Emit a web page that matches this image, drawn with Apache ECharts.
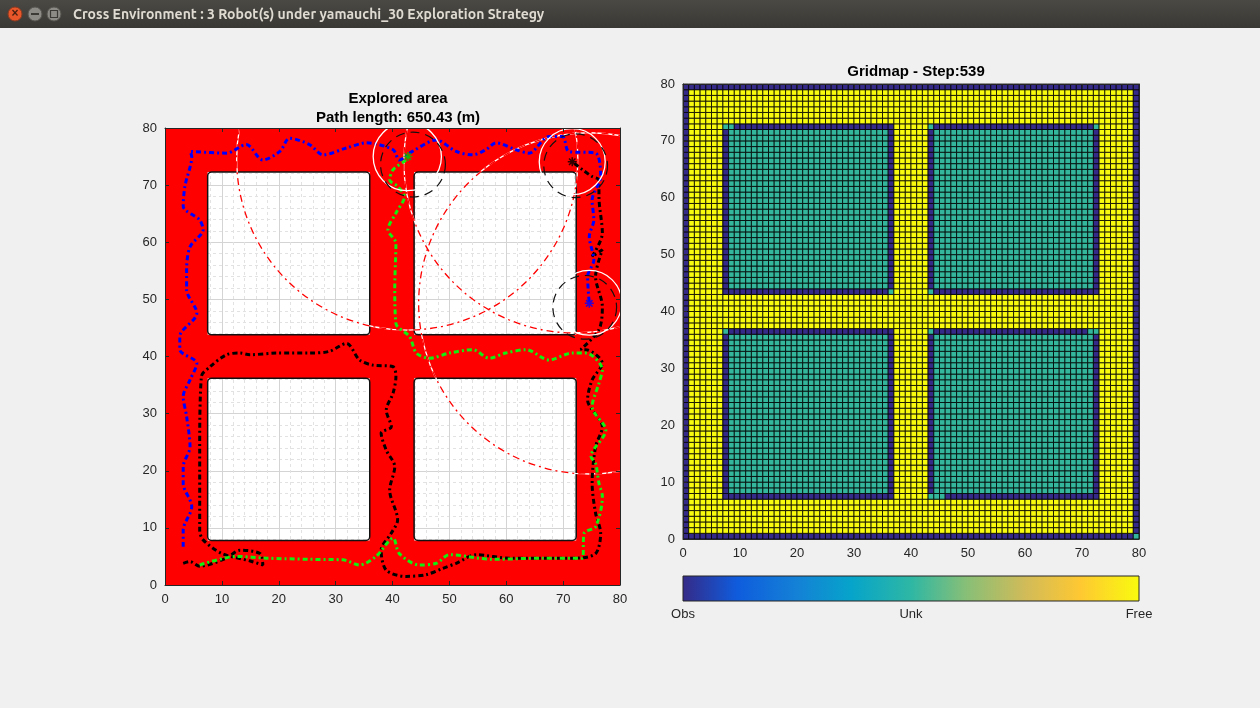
<!DOCTYPE html>
<html><head><meta charset="utf-8">
<script src="https://cdn.jsdelivr.net/npm/echarts@6/dist/echarts.min.js"></script>
<style>html,body{margin:0;padding:0;background:#f0f0f0}#c{width:1260px;height:708px}</style>
</head><body><div id="c"></div>
<script>
// ---------- DATA ----------
const ticks = [0,10,20,30,40,50,60,70,80];
const rooms = [[7.5,36,7.8,36.2],[43.8,72.3,7.8,36.2],[7.5,36,43.8,72.3],[43.8,72.3,43.8,72.3]];
const explored = [[0,80,0,7.8],[0,80,36.2,43.8],[0,80,72.3,80],[0,7.5,0,80],[36,43.8,0,80],[72.3,80,0,80]];
const bluePath = [[3.2,6.7],[3.2,9.6],[4.7,13.7],[3.2,17.8],[3.2,20.7],[4.4,24.2],[3.8,29.5],[3.2,33],[4.4,35.9],[5.6,38.8],[2.6,41.2],[2.6,43.5],[5.6,47.6],[3.8,51.7],[3.8,55.2],[4.4,59.2],[6.7,62.2],[6.1,63.9],[3.2,66.3],[3.5,69.8],[4.7,75],[4.4,75.9],[10.8,75.6],[14.3,77.1],[17.2,74.4],[20.2,75.9],[21.9,78.2],[25.4,77.1],[27.8,75.3],[31.9,76.5],[35.4,77.4],[40.1,76.2],[41.2,74.4],[43.5,75.9],[47.7,77.9],[51.2,75.9],[54.1,75.3],[56.4,76.2],[58.2,77.4],[61.7,76.2],[64,75.6],[67.5,78.5],[69.9,78.5],[71,75.9],[75.7,75.6],[76.6,71.5],[75.1,67.4],[75.4,63.9],[74.6,61],[75.4,56.9],[74.3,54],[74.6,49.3]];
const greenPath = [[6.1,3.5],[12.6,5],[17.8,4.7],[25.4,4.5],[31.3,4.4],[34.2,3.5],[37.1,5],[40.1,8.2],[41.2,5.5],[44.7,3.5],[47.7,3.8],[50,5.3],[57.6,4.5],[66.4,4.7],[73.4,4.7],[73.7,9.1],[75.7,10.2],[76.9,15.5],[76.3,17.8],[75.7,21.3],[74.9,22.5],[77.5,27.1],[75.1,31.2],[76.3,35.3],[76.9,37.7],[74,40.6],[71.6,40.6],[67.5,39.4],[63.5,41.2],[59.9,40.6],[57,39.7],[54.1,41.2],[50,40.6],[46.5,39.7],[44.2,40.6],[43,43.5],[40.6,45.8],[40.4,52.2],[40.6,59.8],[39.2,62.2],[40.6,65.1],[42.1,68],[40.9,69.8],[39.5,70.9],[40.1,72.7],[42.4,74.4],[42.7,75]];
const blackPath = [[3.2,3.8],[4.4,4.1],[6.1,3.3],[10.8,4.7],[13.2,6.1],[16.7,5.5],[17.2,3.5],[15,4.2],[10,5.5],[6.7,7.9],[6.1,9.6],[6.1,23.6],[6.4,36.5],[7.9,38.2],[10.8,40.3],[13.2,40.6],[14.9,40.3],[19.6,40.6],[25.4,40.6],[28.9,40.9],[31.9,42.3],[34.2,39.4],[36.5,38.5],[40.1,38.2],[40.6,36.5],[40.1,33.6],[38.9,30.6],[39.8,27.7],[38,26.6],[38.9,23.6],[40.4,20.7],[39.5,16.6],[40.9,11.4],[39.8,9.1],[38,6.1],[38.9,2.6],[42.4,1.5],[45.9,1.8],[48.8,2.9],[51.2,3.8],[54.7,5.3],[60.5,4.7],[72.2,4.7],[75.7,5.5],[76.6,9.1],[75.7,12.6],[75.1,17.8],[75.7,24.2],[76.9,27.7],[74.3,32.4],[75.1,35.9],[76.9,38.8],[74,41.2],[73.1,41.2],[76.3,44.7],[76.9,48.7],[75.7,54],[76.9,58.7],[75.1,57.5],[76.9,61.6],[76.3,68],[76.3,70.9],[75.1,71.5],[73.4,72.7],[71.6,74.1]];
const robots = [[74.6,49.3,'#0000ff'],[42.7,75,'#00c000'],[71.6,74.1,'#000000']];
const rangeCircles = [[42.6,74.5,30],[74.6,49.3,30],[72,74,30]];
const sensorCircles = [[42.6,75,6],[71.6,74.1,5.8],[74.6,49.4,5.7]];
const dashedCircles = [[43.6,73.6,5.7],[72.2,73.4,5.6],[73.8,48.6,5.6]];
// gridmap: 0 = Obs, 1 = Unk, 2 = Free
const gridSize = 80;
const unkBlocks = [[7,36,43,72],[43,72,43,72],[7,36,7,36],[43,72,7,36]];
const obsEdges = [[0,0,0,79],[79,79,0,79],[0,79,79,79],[0,78,0,0],
  [9,35,72,72],[7,7,43,71],[36,36,44,72],[7,35,43,43],
  [44,71,72,72],[43,43,44,71],[72,72,43,71],[44,72,43,43],
  [7,7,7,35],[8,36,36,36],[36,36,8,36],[8,36,7,7],
  [44,70,36,36],[43,43,8,35],[72,72,8,35],[46,72,7,7]];
const colorbarLabels = ['Obs','Unk','Free'];
const cellColors = ['#352a87','#33b69b','#f9fb0e'];

// ---------- BUILD ----------
const cells = [];
const grid = [];
for (let x=0;x<gridSize;x++){grid.push([]);for(let y=0;y<gridSize;y++)grid[x].push(2);}
unkBlocks.forEach(b=>{for(let x=b[0];x<=b[1];x++)for(let y=b[2];y<=b[3];y++)grid[x][y]=1;});
obsEdges.forEach(b=>{for(let x=b[0];x<=b[1];x++)for(let y=b[2];y<=b[3];y++)grid[x][y]=0;});
grid[79][0]=1;
for (let x=0;x<gridSize;x++)for(let y=0;y<gridSize;y++)cells.push([x,y,grid[x][y]]);

const FONT='Liberation Sans';
function axisPair(gi){
  const common = {type:'value',min:0,max:80,interval:10,gridIndex:gi};
  const boxAx = pos => Object.assign({},common,{position:pos,z:10,axisLine:{show:true,onZero:false,lineStyle:{color:'#262626'}},axisTick:{show:true,inside:true,length:4,lineStyle:{color:'#262626'}},axisLabel:{show:false},splitLine:{show:false}});
  const main = pos => Object.assign({},common,{position:pos,axisLine:{show:false},axisTick:{show:false},
        axisLabel:{show:true,color:'#262626',fontSize:13,fontFamily:FONT,margin:8},
        splitLine:{show:gi===0,lineStyle:{color:'#d4d4d4',width:1}},
        minorTick:{show:false},minorSplitLine:{show:gi===0,lineStyle:{color:'#e2e2e2',type:[3,3]}},splitNumber:5});
  return {x:[main('bottom'),boxAx('bottom'),boxAx('top')], y:[main('left'),boxAx('left'),boxAx('right')]};
}
const A0=axisPair(0), A1=axisPair(1);
const xAxes=[...A0.x,...A1.x], yAxes=[...A0.y,...A1.y];

function rectSeries(data, fill, stroke, z, r){
  return {type:'custom',xAxisIndex:0,yAxisIndex:0,z:z,silent:true,clip:true,data:data,
    renderItem:(p,api)=>{
      const a=api.coord([api.value(0),api.value(3)]), b=api.coord([api.value(1),api.value(2)]);
      return {type:'rect',shape:{x:a[0],y:a[1],width:b[0]-a[0],height:b[1]-a[1],r:r||0},
        style:{fill:fill,stroke:stroke,lineWidth:stroke?1.5:0}};
    }};
}
function circleSeries(data, stroke, dash, width, z){
  return {type:'custom',xAxisIndex:0,yAxisIndex:0,z:z,silent:true,clip:true,data:data,
    renderItem:(p,api)=>{
      const c=api.coord([api.value(0),api.value(1)]);
      const r=api.size([api.value(2),0])[0];
      return {type:'circle',shape:{cx:c[0],cy:c[1],r:r},style:{fill:null,stroke:stroke,lineWidth:width,lineDash:dash}};
    }};
}
function pathSeries(data,color,z){
  return {type:'line',xAxisIndex:0,yAxisIndex:0,z:z,data:data,showSymbol:false,smooth:0.3,silent:true,
    lineStyle:{color:color,width:3,type:[5,3,2,3]}};
}
const star='path://M0,-5L0,5M-5,0L5,0M-3.6,-3.6L3.6,3.6M-3.6,3.6L3.6,-3.6';

const option={
  animation:false,
  backgroundColor:'#f0f0f0',
  grid:[{left:165,top:128,width:455,height:457,show:true,backgroundColor:'#ffffff',borderWidth:0},{left:683,top:84,width:456,height:455}],
  xAxis:xAxes, yAxis:yAxes,
  title:[
    {text:'Explored area\nPath length: 650.43 (m)',left:393,top:84,textAlign:'center',
      textStyle:{fontFamily:FONT,fontSize:15,fontWeight:'bold',color:'#000',lineHeight:19}},
    {text:'Gridmap - Step:539',left:911,top:59,textAlign:'center',
      textStyle:{fontFamily:FONT,fontSize:15,fontWeight:'bold',color:'#000'}}
  ],
  graphic:[
    {type:'rect',shape:{x:0,y:0,width:1260,height:28},style:{fill:{type:'linear',x:0,y:0,x2:0,y2:1,colorStops:[{offset:0,color:'#4a4944'},{offset:1,color:'#393834'}]}}},
    {type:'circle',shape:{cx:15,cy:14,r:7},style:{fill:'#e8562a',stroke:'#8a3a20'}},
    {type:'text',x:15,y:14,style:{text:'×',fill:'#4a2010',font:'bold 12px '+FONT,align:'center',verticalAlign:'middle'}},
    {type:'circle',shape:{cx:35,cy:14,r:7},style:{fill:'#8d8b86',stroke:'#55544f'}},
    {type:'rect',shape:{x:31,y:13,width:8,height:2},style:{fill:'#3b3a36'}},
    {type:'circle',shape:{cx:54,cy:14,r:7},style:{fill:'#8d8b86',stroke:'#55544f'}},
    {type:'rect',shape:{x:50.5,y:10.5,width:7,height:7},style:{fill:null,stroke:'#3b3a36',lineWidth:1.2}},
    {type:'text',x:73,y:14,style:{text:'Cross Environment : 3 Robot(s) under yamauchi_30 Exploration Strategy',fill:'#dfdbd2',font:'bold 14px Ubuntu, '+FONT,verticalAlign:'middle'}},
    {type:'rect',shape:{x:683,y:576,width:456,height:25},style:{stroke:'#262626',lineWidth:1,fill:{type:'linear',x:0,y:0,x2:1,y2:0,colorStops:[
      {offset:0,color:'#352a87'},{offset:0.12,color:'#0f5cdd'},{offset:0.25,color:'#1481d6'},{offset:0.37,color:'#06a4ca'},{offset:0.5,color:'#2eb7a4'},{offset:0.62,color:'#87bf77'},{offset:0.75,color:'#d1bb59'},{offset:0.87,color:'#fec832'},{offset:1,color:'#f9fb0e'}]}}},
    {type:'text',x:683,y:608,style:{text:colorbarLabels[0],fill:'#262626',font:'13px '+FONT,align:'center'}},
    {type:'text',x:911,y:608,style:{text:colorbarLabels[1],fill:'#262626',font:'13px '+FONT,align:'center'}},
    {type:'text',x:1139,y:608,style:{text:colorbarLabels[2],fill:'#262626',font:'13px '+FONT,align:'center'}}
  ],
  series:[
    rectSeries(explored,'#ff0000',null,2),
    rectSeries(rooms,null,'#111',3,4),
    circleSeries(rangeCircles,'#ffffff',null,1.3,4),
    circleSeries(rangeCircles,'#ff0000',[7,4,2,4],1.3,5),
    pathSeries(blackPath,'#000000',6),
    pathSeries(bluePath,'#0000ff',6),
    pathSeries(greenPath,'#11ee11',7),
    circleSeries(sensorCircles,'#ffffff',null,1.3,8),
    circleSeries(dashedCircles,'#111111',[9,6],1.2,8),
    {type:'scatter',xAxisIndex:0,yAxisIndex:0,z:9,data:robots.map(r=>({value:[r[0],r[1]],itemStyle:{color:'none',borderColor:r[2],borderWidth:1.5}})),symbol:star,symbolSize:9,silent:true},
    {type:'custom',xAxisIndex:3,yAxisIndex:3,z:2,silent:true,data:cells,
      renderItem:(p,api)=>{
        const a=api.coord([api.value(0),api.value(1)+1]), b=api.coord([api.value(0)+1,api.value(1)]);
        return {type:'rect',shape:{x:a[0],y:a[1],width:b[0]-a[0],height:b[1]-a[1]},
          style:{fill:cellColors[api.value(2)],stroke:'#000',lineWidth:0.8}};
      }}
  ]
};
echarts.init(document.getElementById('c')).setOption(option);
</script></body></html>
